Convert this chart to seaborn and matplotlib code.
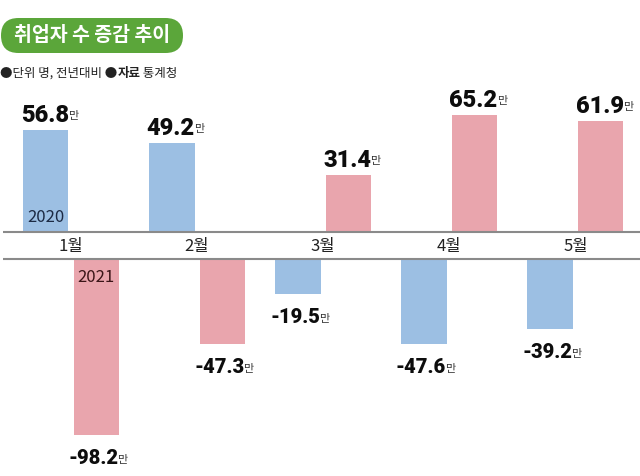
import matplotlib
matplotlib.use('Agg')
import matplotlib.pyplot as plt
import seaborn as sns
import pandas as pd
from matplotlib.patches import FancyBboxPatch

# ---- data ----
months = ['1월', '2월', '3월', '4월', '5월']
years = ['2020', '2021']
y2020 = [56.8, 49.2, -19.5, -47.6, -39.2]
y2021 = [-98.2, -47.3, 31.4, 65.2, 61.9]
title = '취업자 수 증감 추이'
unit_note = '●단위 명, 전년대비 ●'
source_key = '자료'
source_val = ' 통계청'
unit_suffix = '만'

colors = {'2020': '#9cbfe3', '2021': '#e9a5ad'}

df = pd.DataFrame({
    'month': months * 2,
    'year': [years[0]] * len(months) + [years[1]] * len(months),
    'value': y2020 + y2021,
})

sns.set_theme(style='white')
plt.rcParams['font.family'] = ['Noto Sans CJK KR', 'DejaVu Sans']
NUM_FONT = ['Roboto', 'Noto Sans CJK KR', 'DejaVu Sans']

W, H = 640, 476
fig = plt.figure(figsize=(W / 100, H / 100), dpi=100)


def px_axes(left, top, right, bottom, **kw):
    return fig.add_axes([left / W, 1 - bottom / H, (right - left) / W, (bottom - top) / H], **kw)


SCALE = 1.80      # pixels per unit
TOP0 = 232        # zero line of upper panel
BOT0 = 258.5      # zero line of lower panel
AX_TOP = 90

ax_top = px_axes(0, AX_TOP, W, TOP0)
ax_bot = px_axes(0, BOT0, W, H)
xlim = (-71 / 126.1, (W - 71) / 126.1)

for ax in (ax_top, ax_bot):
    sns.barplot(data=df, x='month', y='value', hue='year', order=months,
                hue_order=years, palette=colors, width=0.8, gap=0.1,
                linewidth=0, saturation=1, legend=False, ax=ax)
    ax.set_xlim(*xlim)
    ax.set_xlabel('')
    ax.set_ylabel('')
    ax.set_yticks([])
    for s in ax.spines.values():
        s.set_visible(False)
    ax.patch.set_alpha(0)

ax_top.set_ylim(0, (TOP0 - AX_TOP) / SCALE)
ax_bot.set_ylim(-(H - BOT0) / SCALE, 0)
ax_top.tick_params(axis='x', length=0, pad=4, labelsize=12, labelcolor='#222222')
ax_bot.set_xticks([])

# value labels
for ax, positive in ((ax_top, True), (ax_bot, False)):
    for hi, container in enumerate(ax.containers):
        for bar, v in zip(container, container.datavalues):
            cx = bar.get_x() + bar.get_width() / 2
            if (v > 0) != positive:
                continue
            if positive:
                num = ax.annotate(f'{v:.1f}', xy=(cx, v), xytext=(-1, 8),
                                  textcoords='offset pixels', ha='center', va='baseline',
                                  fontsize=17, fontweight=900, family=NUM_FONT,
                                  color='#0d0d0d')
                ax.annotate(unit_suffix, xy=(1, 0), xycoords=num, xytext=(-1, 8),
                            textcoords='offset pixels', ha='left', va='baseline',
                            fontsize=8, color='#333333')
            else:
                num = ax.annotate(f'-{abs(v):.1f}', xy=(cx, v), xytext=(-3, -14),
                                  textcoords='offset pixels', ha='center', va='top',
                                  fontsize=14.5, fontweight=900, family=NUM_FONT,
                                  color='#0d0d0d')
                ax.annotate(unit_suffix, xy=(1, 0), xycoords=num, xytext=(-1, 5),
                            textcoords='offset pixels', ha='left', va='baseline',
                            fontsize=8, color='#333333')

# year tags inside the first month's bars
first_2020 = ax_top.containers[0][0]
ax_top.annotate(years[0], xy=(first_2020.get_x() + first_2020.get_width() / 2, 0),
                xytext=(0, 10), textcoords='offset pixels', ha='center', va='baseline',
                fontsize=12, color='#1c2a44')
first_2021 = ax_bot.containers[1][0]
ax_bot.annotate(years[1], xy=(first_2021.get_x() + first_2021.get_width() / 2, 0),
                xytext=(0, -23), textcoords='offset pixels', ha='center', va='baseline',
                fontsize=12, color='#3b1518')

# overlay for header and separator lines
ov = fig.add_axes([0, 0, 1, 1], zorder=5)
ov.set_xlim(0, W)
ov.set_ylim(H, 0)
ov.axis('off')
ov.patch.set_alpha(0)

ov.plot([3, W], [TOP0, TOP0], color='#8a8a8a', lw=1.5, solid_capstyle='butt')
ov.plot([3, W], [BOT0, BOT0], color='#8a8a8a', lw=1.5, solid_capstyle='butt')

ov.add_patch(FancyBboxPatch((1, 18), 182, 35, boxstyle='round,pad=0,rounding_size=17.5',
                            fc='#5ba63a', ec='none'))
ov.text(92, 35.5, title, ha='center', va='center', color='white',
        fontsize=14, fontweight='bold')

t1 = ov.text(0, 77, unit_note, ha='left', va='baseline', fontsize=9, color='#222222')
t2 = ov.annotate(source_key, xy=(1, 0), xycoords=t1, ha='left', va='bottom',
                 fontsize=9, fontweight='bold', color='#222222')
ov.annotate(source_val, xy=(1, 0), xycoords=t2, ha='left', va='bottom',
            fontsize=9, color='#222222')

fig.savefig('out.png', dpi=100)
